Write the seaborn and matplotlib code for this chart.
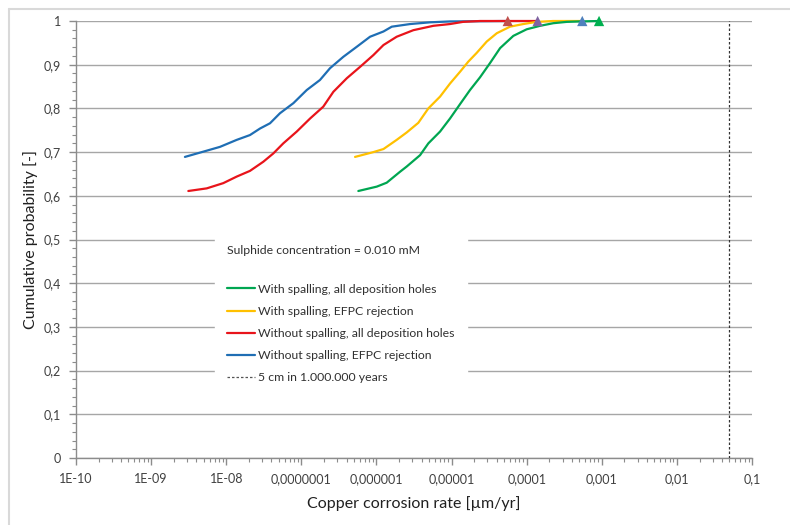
import matplotlib
matplotlib.use("Agg")
import matplotlib.pyplot as plt
from matplotlib.lines import Line2D
from matplotlib.ticker import MultipleLocator, LogLocator, NullFormatter, FixedLocator
import seaborn as sns
import pandas as pd

# curves
green_x = [5.74e-7, 1.01e-6, 1.37e-6, 2.06e-6, 2.53e-6, 3.81e-6, 4.91e-6, 7.03e-6, 9.55e-6, 1.3e-5,
           1.76e-5, 2.39e-5, 3.26e-5, 4.43e-5, 6.65e-5, 1.0e-4, 1.51e-4, 2.27e-4, 3.42e-4, 5.14e-4, 9.2e-4]
green_y = [0.611, 0.621, 0.630, 0.655, 0.667, 0.693, 0.720, 0.747, 0.777, 0.810,
           0.842, 0.871, 0.904, 0.938, 0.966, 0.981, 0.989, 0.995, 0.998, 0.999, 1.0]

yellow_x = [5.19e-7, 9.1e-7, 1.24e-6, 1.86e-6, 2.53e-6, 3.61e-6, 4.91e-6, 7.03e-6, 9.55e-6, 1.3e-5,
            1.67e-5, 2.16e-5, 2.94e-5, 4.0e-5, 6.0e-5, 9.0e-5, 1.36e-4, 2.25e-4, 5.5e-4]
yellow_y = [0.689, 0.700, 0.707, 0.728, 0.745, 0.767, 0.800, 0.827, 0.857, 0.884,
            0.907, 0.927, 0.953, 0.972, 0.987, 0.993, 0.998, 1.0, 1.0]

red_x = [3.13e-9, 5.5e-9, 9.14e-9, 1.38e-8, 2.07e-8, 3.12e-8, 4.24e-8, 5.75e-8, 8.69e-8, 1.31e-7,
         1.96e-7, 2.67e-7, 4.03e-7, 6.05e-7, 9.1e-7, 1.24e-6, 1.86e-6, 3.1e-6, 5.73e-6, 9.5e-6,
         1.42e-5, 2.39e-5, 1.4e-4]
red_y = [0.611, 0.617, 0.629, 0.644, 0.657, 0.678, 0.697, 0.720, 0.747, 0.777,
         0.804, 0.838, 0.869, 0.895, 0.922, 0.945, 0.964, 0.979, 0.989, 0.993,
         0.998, 1.0, 1.0]

blue_x = [2.82e-9, 4.95e-9, 8.26e-9, 1.38e-8, 2.07e-8, 2.82e-8, 3.83e-8, 5.2e-8, 7.84e-8, 1.18e-7,
          1.77e-7, 2.41e-7, 3.62e-7, 5.47e-7, 8.22e-7, 1.24e-6, 1.6e-6, 2.8e-6, 5.2e-6, 9.5e-6, 5.6e-5]
blue_y = [0.689, 0.701, 0.712, 0.728, 0.739, 0.754, 0.766, 0.789, 0.812, 0.842,
          0.865, 0.892, 0.918, 0.941, 0.964, 0.976, 0.987, 0.993, 0.997, 0.999, 1.0]

series_names = ["With spalling, all deposition holes", "With spalling, EFPC rejection",
                "Without spalling, all deposition holes", "Without spalling, EFPC rejection"]
series_colors = ["#00A651", "#FFC000", "#E8141B", "#1F6EB4"]

# end markers
marker_x = [5.6e-5, 1.4e-4, 5.5e-4, 9.2e-4]
marker_y = [1.0, 1.0, 1.0, 1.0]
marker_colors = ["#C0504D", "#8064A2", "#4F81BD", "#00B050"]

limit_rate = 0.05
limit_label = "5 cm in 1.000.000 years"

x_ticks = [1e-10, 1e-9, 1e-8, 1e-7, 1e-6, 1e-5, 1e-4, 1e-3, 1e-2, 1e-1]
x_tick_labels = ["1E-10", "1E-09", "1E-08", "0,0000001", "0,000001", "0,00001",
                 "0,0001", "0,001", "0,01", "0,1"]
y_ticks = [0, 0.1, 0.2, 0.3, 0.4, 0.5, 0.6, 0.7, 0.8, 0.9, 1.0]
y_tick_labels = ["0", "0,1", "0,2", "0,3", "0,4", "0,5", "0,6", "0,7", "0,8", "0,9", "1"]

frames = []
for name, xs, ys in zip(series_names, [green_x, yellow_x, red_x, blue_x],
                        [green_y, yellow_y, red_y, blue_y]):
    frames.append(pd.DataFrame({"rate": xs, "prob": ys, "series": name}))
df = pd.concat(frames, ignore_index=True)

sns.set_style("white")
plt.rcParams["font.family"] = ["Lato", "DejaVu Sans"]
gray = "#8C8C8C"

fig = plt.figure(figsize=(7.9, 5.25), dpi=100)
ax = fig.add_axes([0.0962, 0.1276, 0.8557, 0.8324])

draw_order = [series_names[3], series_names[2], series_names[1], series_names[0]]
sns.lineplot(data=df, x="rate", y="prob", hue="series", hue_order=draw_order,
             palette=dict(zip(series_names, series_colors)), estimator=None, sort=False,
             linewidth=1.6, legend=False, ax=ax, zorder=3, clip_on=False)
sns.scatterplot(x=marker_x, y=marker_y, hue=list(range(4)), palette=marker_colors,
                marker="^", s=55, edgecolor="none", legend=False, ax=ax, zorder=4,
                clip_on=False)
ax.axvline(limit_rate, color="#333333", linestyle=(0, (2, 1.6)), linewidth=0.9, zorder=3)

ax.set_xscale("log")
ax.set_xlim(1e-10, 1e-1)
ax.set_ylim(0, 1)
ax.xaxis.set_major_locator(FixedLocator(x_ticks))
ax.set_xticklabels(x_tick_labels)
ax.xaxis.set_minor_locator(LogLocator(base=10, subs=range(2, 10), numticks=20))
ax.xaxis.set_minor_formatter(NullFormatter())
ax.set_yticks(y_ticks)
ax.set_yticklabels(y_tick_labels)
ax.yaxis.set_minor_locator(MultipleLocator(0.02))

ax.grid(axis="y", which="major", color="#A6A6A6", linewidth=1.0, zorder=0)
ax.set_axisbelow(True)
for s in ["top", "right"]:
    ax.spines[s].set_visible(False)
for s in ["left", "bottom"]:
    ax.spines[s].set_color(gray)
    ax.spines[s].set_linewidth(1.0)
ax.tick_params(axis="both", which="major", direction="out", length=5, width=1.0,
               color=gray, labelsize=9, labelcolor="#404040", pad=6,
               left=True, bottom=True)
ax.tick_params(axis="both", which="minor", direction="out", length=3, width=0.8,
               color=gray, left=True, bottom=True)

ax.set_xlabel("Copper corrosion rate [µm/yr]", fontsize=11.5, color="#202020", labelpad=8)
ax.set_ylabel("Cumulative probability [-]", fontsize=11.5, color="#202020", labelpad=4)

handles = [Line2D([], [], color=c, linewidth=1.6) for c in series_colors]
handles.append(Line2D([], [], color="#555555", linestyle=(0, (2, 1.6)), linewidth=0.9))
labels = series_names + [limit_label]
leg = ax.legend(handles, labels, loc="upper left", bbox_to_anchor=(0.2056, 0.515),
                title="Sulphide concentration = 0.010 mM\n", alignment="left",
                frameon=True, fancybox=False, facecolor="white", edgecolor="white",
                framealpha=1, fontsize=8.8, title_fontsize=8.8, handlelength=2.3,
                handletextpad=0.25, labelspacing=0.91, borderpad=1.0, borderaxespad=0)
for t in leg.get_texts():
    t.set_color("#303030")
leg.get_title().set_color("#303030")
leg.get_title().set_linespacing(1.6)
leg.set_zorder(2)

fig.add_artist(Line2D([9 / 790, 1], [1 - 9 / 525, 1 - 9 / 525], color="#D9D9D9", linewidth=1.5))
fig.add_artist(Line2D([9 / 790, 9 / 790], [0, 1 - 9 / 525], color="#D9D9D9", linewidth=1.5))

fig.savefig("out.png", dpi=100)
